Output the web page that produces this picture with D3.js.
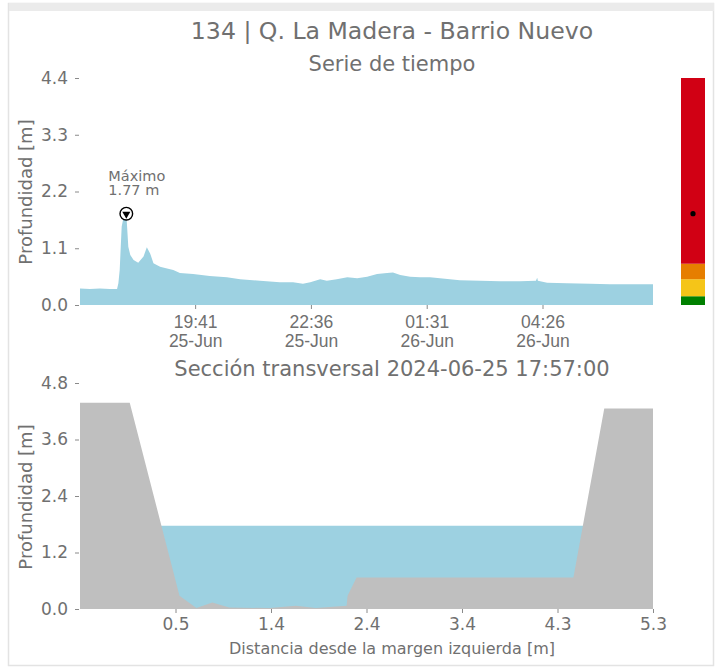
<!DOCTYPE html>
<html><head><meta charset="utf-8">
<script src="https://cdn.jsdelivr.net/npm/d3@7"></script>
<style>
html,body{margin:0;padding:0;background:#fff;}
svg{display:block;font-family:"DejaVu Sans",sans-serif;}
</style></head><body>
<svg id="c" width="720" height="667"></svg>
<script>
// ---------- data ----------
const mainTitle = "134 | Q. La Madera - Barrio Nuevo";
const seriesTitle = "Serie de tiempo";
const sectionTitle = "Sección transversal 2024-06-25 17:57:00";
const yLabel = "Profundidad [m]";
const sectionXLabel = "Distancia desde la margen izquierda [m]";

const seriesTimes = [
 "2024-06-25 16:47","2024-06-25 17:02","2024-06-25 17:17","2024-06-25 17:32","2024-06-25 17:43",
 "2024-06-25 17:45","2024-06-25 17:47","2024-06-25 17:50","2024-06-25 17:52","2024-06-25 17:57",
 "2024-06-25 18:00","2024-06-25 18:03","2024-06-25 18:08","2024-06-25 18:15","2024-06-25 18:23",
 "2024-06-25 18:28","2024-06-25 18:33","2024-06-25 18:38","2024-06-25 18:48","2024-06-25 18:57",
 "2024-06-25 19:08","2024-06-25 19:18","2024-06-25 19:38","2024-06-25 20:03","2024-06-25 20:29",
 "2024-06-25 20:49","2024-06-25 21:19","2024-06-25 21:49","2024-06-25 22:09","2024-06-25 22:24",
 "2024-06-25 22:35","2024-06-25 22:50","2024-06-25 23:00","2024-06-25 23:15","2024-06-25 23:31",
 "2024-06-25 23:46","2024-06-26 00:01","2024-06-26 00:16","2024-06-26 00:31","2024-06-26 00:40",
 "2024-06-26 00:51","2024-06-26 01:06","2024-06-26 01:21","2024-06-26 01:36","2024-06-26 01:51",
 "2024-06-26 02:06","2024-06-26 02:21","2024-06-26 02:52","2024-06-26 03:22","2024-06-26 03:52",
 "2024-06-26 04:16","2024-06-26 04:18","2024-06-26 04:19","2024-06-26 04:33","2024-06-26 05:03",
 "2024-06-26 05:38","2024-06-26 06:08","2024-06-26 06:38","2024-06-26 07:13"
];
const seriesDepths = [
 0.32,0.31,0.32,0.31,0.31,
 0.42,0.68,1.52,1.65,1.77,
 1.13,0.97,0.87,0.82,0.94,
 1.12,1.00,0.81,0.74,0.71,
 0.68,0.62,0.60,0.56,0.54,
 0.50,0.47,0.44,0.44,0.41,
 0.44,0.50,0.47,0.50,0.54,
 0.52,0.55,0.60,0.62,0.63,
 0.58,0.55,0.54,0.54,0.52,
 0.50,0.48,0.47,0.46,0.46,
 0.47,0.53,0.47,0.43,0.42,
 0.41,0.40,0.40,0.40
];
const timeDomain = ["2024-06-25 16:47","2024-06-26 07:13"];
const timeTicks = ["2024-06-25 19:41","2024-06-25 22:36","2024-06-26 01:31","2024-06-26 04:26"];
const seriesYTicks = [0, 1.1, 2.2, 3.3, 4.4];
const maxTime = "2024-06-25 17:57";
const maxDepth = 1.77;
const maxLabel = ["Máximo", "1.77 m"];

const levelThresholds = [0, 0.17, 0.5, 0.8, 4.4];
const levelColors = ["#008000", "#f5c518", "#e67e00", "#d10014"];
const currentDepth = 1.77;

const sectionX = [-0.48, 0.02, 0.52, 0.69, 0.85, 1.02, 1.43, 1.69, 1.89, 2.20, 2.21, 2.30, 4.48, 4.79, 5.28];
const sectionGround = [4.38, 4.38, 0.28, 0.02, 0.14, 0.03, 0.02, 0.07, 0.02, 0.07, 0.28, 0.67, 0.67, 4.26, 4.26];
const waterLevel = 1.77;
const sectionXTicks = [0.48, 1.44, 2.40, 3.36, 4.32, 5.28];
const sectionYTicks = [0, 1.2, 2.4, 3.6, 4.8];

// ---------- drawing ----------
const svg = d3.select("#c");
const TXT = "#707070";
const BLUE = "#9dd1e1";
const GROUND = "#bfbfbf";
const parse = d3.timeParse("%Y-%m-%d %H:%M");

// frame
svg.append("rect").attr("x",8.5).attr("y",3.5).attr("width",705).attr("height",662)
  .attr("fill","none").attr("stroke","#e3e3e3").attr("stroke-width",1.5);
svg.append("rect").attr("x",9).attr("y",3).attr("width",705).attr("height",8).attr("fill","#ebebeb");

svg.append("text").attr("x",392).attr("y",38.5).attr("text-anchor","middle")
  .attr("font-size",23.6).attr("fill",TXT).text(mainTitle);
svg.append("text").attr("x",392).attr("y",71).attr("text-anchor","middle")
  .attr("font-size",21).attr("fill",TXT).text(seriesTitle);

// ---- time series ----
const x1 = d3.scaleTime().domain(timeDomain.map(parse)).range([80, 653]);
const y1 = d3.scaleLinear().domain([0, 4.4]).range([305, 78]);
const series = seriesTimes.map((t,i)=>({t:parse(t), v:seriesDepths[i]}));

svg.append("path").datum(series)
  .attr("d", d3.area().x(d=>x1(d.t)).y0(y1(0)).y1(d=>y1(d.v)))
  .attr("fill", BLUE);

function styleAxis(g){
  g.select(".domain").remove();
  g.selectAll(".tick line").attr("stroke","#8a8a8a").attr("stroke-width",1);
  g.selectAll(".tick text").attr("fill",TXT).attr("font-family","DejaVu Sans");
}

const yAx1 = svg.append("g").attr("transform","translate(79,0)")
  .call(d3.axisLeft(y1).tickValues(seriesYTicks).tickFormat(d3.format(".1f")).tickSize(4).tickPadding(7));
styleAxis(yAx1); yAx1.selectAll(".tick text").attr("font-size",17);

const fmtT = d3.timeFormat("%H:%M"), fmtD = d3.timeFormat("%d-%b");
const xAx1 = svg.append("g").attr("transform","translate(0,305)")
  .call(d3.axisBottom(x1).tickValues(timeTicks.map(parse)).tickSize(4).tickFormat(""));
styleAxis(xAx1);
xAx1.selectAll(".tick").each(function(d){
  const t = d3.select(this).append("text").attr("fill",TXT).attr("font-size",17.5)
    .attr("text-anchor","middle");
  t.append("tspan").attr("x",0).attr("y",23).text(fmtT(d));
  t.append("tspan").attr("x",0).attr("y",42).text(fmtD(d));
});

svg.append("text").attr("transform","translate(32,192) rotate(-90)").attr("text-anchor","middle")
  .attr("font-size",18).attr("fill",TXT).text(yLabel);

// max marker
const mx = x1(parse(maxTime)), my = y1(maxDepth);
svg.append("circle").attr("cx",mx).attr("cy",my).attr("r",6.3).attr("fill","#fff")
  .attr("stroke","#000").attr("stroke-width",1.4);
svg.append("path").attr("d", d3.symbol().type(d3.symbolTriangle).size(28))
  .attr("transform",`translate(${mx},${my+0.5}) rotate(180)`).attr("fill","#000");
const ml = svg.append("text").attr("font-size",14.5).attr("fill",TXT);
ml.append("tspan").attr("x",mx-18).attr("y",my-33).text(maxLabel[0]);
ml.append("tspan").attr("x",mx-18).attr("y",my-18.5).text(maxLabel[1]);

// level bar
for (let i=0;i<levelColors.length;i++){
  svg.append("rect").attr("x",681).attr("width",24)
    .attr("y", y1(levelThresholds[i+1])).attr("height", y1(levelThresholds[i]) - y1(levelThresholds[i+1]))
    .attr("fill", levelColors[i]);
}
svg.append("circle").attr("cx",693).attr("cy",y1(currentDepth)).attr("r",2.6).attr("fill","#000");

// ---- cross-section ----
svg.append("text").attr("x",392).attr("y",376).attr("text-anchor","middle")
  .attr("font-size",21).attr("fill",TXT).text(sectionTitle);

const x2 = d3.scaleLinear().domain([-0.48, 5.28]).range([80, 653]);
const y2 = d3.scaleLinear().domain([0, 4.8]).range([609, 383]);
const ground = sectionX.map((x,i)=>({x, g:sectionGround[i]}));

svg.append("path").datum([{x:sectionX[0]},{x:sectionX[sectionX.length-1]}])
  .attr("d", d3.area().x(d=>x2(d.x)).y0(y2(0)).y1(y2(waterLevel)))
  .attr("fill", BLUE);
svg.append("path").datum(ground)
  .attr("d", d3.area().x(d=>x2(d.x)).y0(y2(0)).y1(d=>y2(d.g)))
  .attr("fill", GROUND);

const yAx2 = svg.append("g").attr("transform","translate(79,0)")
  .call(d3.axisLeft(y2).tickValues(sectionYTicks).tickFormat(d3.format(".1f")).tickSize(4).tickPadding(7));
styleAxis(yAx2); yAx2.selectAll(".tick text").attr("font-size",17);

const xAx2 = svg.append("g").attr("transform","translate(0,609)")
  .call(d3.axisBottom(x2).tickValues(sectionXTicks).tickFormat(d3.format(".1f")).tickSize(4).tickPadding(5));
styleAxis(xAx2); xAx2.selectAll(".tick text").attr("font-size",17);

svg.append("text").attr("transform","translate(32,497) rotate(-90)").attr("text-anchor","middle")
  .attr("font-size",18).attr("fill",TXT).text(yLabel);
svg.append("text").attr("x",392).attr("y",654).attr("text-anchor","middle")
  .attr("font-size",16).attr("fill",TXT).text(sectionXLabel);
</script>
</body></html>
